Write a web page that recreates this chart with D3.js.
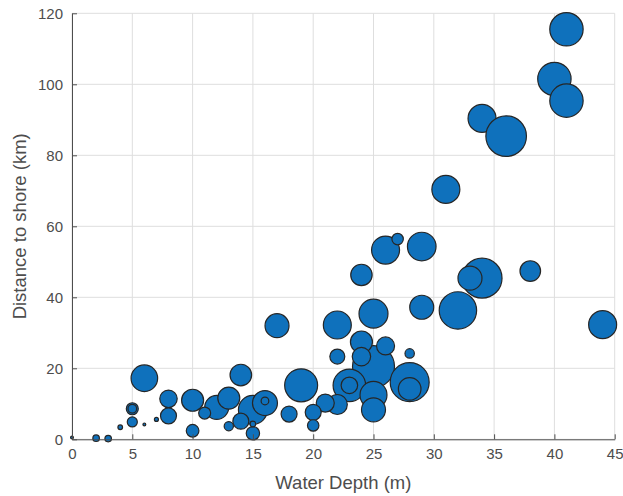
<!DOCTYPE html>
<html>
<head>
<meta charset="utf-8">
<script src="https://cdn.jsdelivr.net/npm/d3@7"></script>
<style>
	body { margin: 0; background: #fff; }
	text { font-family: "Liberation Sans", Arial, sans-serif; }
</style>
</head>
<body>
<div id="bubble_plot"></div>
<script>
// Wind farms: water depth (m), distance to shore (km), capacity (bubble size)
// listed in drawing order (big ones first so small ones stay visible)
var depth = [
	34, 25, 36, 34, 28, 32, 40, 41, 41, 19, 23, 15, 25, 29, 22, 26, 31, 44,
	25, 6, 16, 12, 17, 25, 29, 33, 28, 10, 13, 24, 14, 24, 38, 22, 24, 21, 26,
	8, 23, 8, 14, 18, 20, 22, 15, 10, 5, 11, 20, 27, 5, 28, 13, 5, 16, 2, 3,
	15, 4, 7, 0, 6
];
var distance = [
	90.4, 20.5, 85.4, 45.4, 16.1, 36.3, 101.5, 115.5, 95.4, 15.2, 15.2, 8.3, 35.4, 54.3, 32.2, 53.3, 70.4, 32.3,
	12.5, 17.2, 10.2, 9, 32, 8.3, 37.2, 45.4, 14.2, 11, 11.6, 27.4, 18.1, 46.3, 47.4, 9.8, 23.3, 10.2, 26.3,
	11.4, 15.2, 6.6, 5.1, 7.1, 7.6, 23.3, 1.7, 2.4, 8.6, 7.4, 3.9, 56.4, 4.9, 24.2, 3.7, 8.6, 10.8, 0.3, 0.2,
	4.3, 3.4, 5.6, 0.5, 4.2
];
var capacity = [
	294, 662, 618, 600, 570, 525, 418, 418, 418, 408, 399, 315, 315, 307, 294, 294, 294, 294,
	273, 265, 234, 216, 216, 216, 216, 216, 192, 182, 182, 182, 175, 172, 159, 150, 127, 122, 122,
	114, 103, 96, 96, 96, 96, 84, 67, 60, 54, 54, 49, 49, 38, 33, 32, 28, 22, 16, 16,
	12, 8, 6, 3, 3
];

var xTicks = [0, 5, 10, 15, 20, 25, 30, 35, 40, 45];
var yTicks = [0, 20, 40, 60, 80, 100, 120];

var data = [];
for (let i = 0; i < depth.length; i++) {
	data.push({depth: depth[i], distance: distance[i], capacity: capacity[i]});
}

// set the dimensions and margins of the graph
var margin = {top: 13.3, right: 8.3, bottom: 56.7, left: 72},
	width = 623 - margin.left - margin.right,
	height = 496 - margin.top - margin.bottom;

var svg = d3.select("#bubble_plot")
	.append("svg")
	.attr("width", 623)
	.attr("height", 496)
	.append("g")
	.attr("transform", "translate(" + margin.left + "," + margin.top + ")");

var x = d3.scaleLinear().domain([0, 45]).range([0, width]);
var y = d3.scaleLinear().domain([0, 120]).range([height, 0]);
var r = d3.scaleSqrt().domain([0, 662]).range([0, 21]);

// grid
svg.append("g")
	.selectAll("line")
	.data(xTicks)
	.join("line")
	.attr("x1", d => x(d)).attr("x2", d => x(d))
	.attr("y1", 0).attr("y2", height)
	.attr("stroke", "#dedede");
svg.append("g")
	.selectAll("line")
	.data(yTicks)
	.join("line")
	.attr("x1", 0).attr("x2", width)
	.attr("y1", d => y(d)).attr("y2", d => y(d))
	.attr("stroke", "#dedede");

// bubbles
svg.append("g")
	.selectAll("circle")
	.data(data)
	.join("circle")
	.attr("cx", d => x(d.depth))
	.attr("cy", d => y(d.distance))
	.attr("r", d => r(d.capacity))
	.attr("fill", "#0f71bc")
	.attr("stroke", "#262626")
	.attr("stroke-width", 1.2);

// axes, ticks pointing inward like matlab
var xAxis = svg.append("g")
	.attr("transform", "translate(0," + height + ")")
	.call(d3.axisBottom(x).tickValues(xTicks).tickSizeInner(-5).tickSizeOuter(0).tickPadding(9));
var yAxis = svg.append("g")
	.call(d3.axisLeft(y).tickValues(yTicks).tickSizeInner(-5).tickSizeOuter(0).tickPadding(9));

[xAxis, yAxis].forEach(function(a) {
	a.select(".domain").attr("stroke", "#4d4d4d");
	a.selectAll(".tick line").attr("stroke", "#4d4d4d");
	a.selectAll(".tick text")
		.attr("fill", "#4d4d4d")
		.style("font-size", "15px")
		.style("font-family", "'Liberation Sans', Arial, sans-serif");
});

// axis labels
svg.append("text")
	.attr("x", width / 2)
	.attr("y", height + 50)
	.attr("text-anchor", "middle")
	.attr("fill", "#4d4d4d")
	.style("font-size", "18.5px")
	.text("Water Depth (m)");

svg.append("text")
	.attr("transform", "translate(" + (-46) + "," + (height / 2) + ") rotate(-90)")
	.attr("text-anchor", "middle")
	.attr("fill", "#4d4d4d")
	.style("font-size", "18.5px")
	.text("Distance to shore (km)");
</script>
</body>
</html>
